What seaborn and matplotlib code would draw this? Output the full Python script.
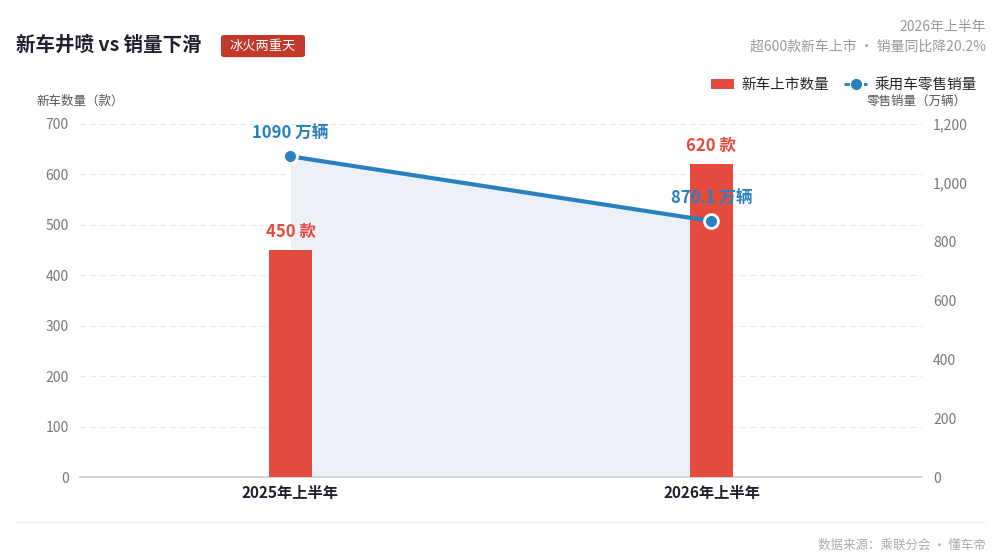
import matplotlib.pyplot as plt
import numpy as np
import pandas as pd
import seaborn as sns
from matplotlib.lines import Line2D
from matplotlib.patches import FancyBboxPatch, Patch

periods = ["2025年上半年", "2026年上半年"]
new_models = [450, 620]
retail_sales = [1090, 870.1]
left_ticks = [0, 100, 200, 300, 400, 500, 600, 700]
right_ticks = [0, 200, 400, 600, 800, 1000, 1200]

RED = "#E24B3E"
BLUE = "#2A80BD"
GRAY = "#777777"

sns.set_theme(style="white")
plt.rcParams["font.family"] = ["Noto Sans CJK SC", "DejaVu Sans"]

df = pd.DataFrame({"period": periods, "models": new_models, "sales": retail_sales})

fig = plt.figure(figsize=(10, 5.55), dpi=100)
ax = fig.add_axes([0.08, 0.1405, 0.842, 0.6361])
ax2 = ax.twinx()
ax2.set_ylim(0, 1200)
ax.set_ylim(0, 700)

sns.barplot(data=df, x="period", y="models", color=RED, width=0.1, saturation=1,
            linewidth=0, ax=ax, zorder=3)
ax.set_xlim(-0.5, 1.5)
ax.set_yticks(left_ticks)
ax.set_xlabel("")
ax.set_ylabel("")
ax.tick_params(axis="y", colors=GRAY, labelsize=10, length=0, pad=8)
ax.tick_params(axis="x", length=0, labelsize=11, pad=6)
for lbl in ax.get_xticklabels():
    lbl.set_fontweight("bold")
    lbl.set_color("#1f1f2e")
ax.grid(axis="y", color="#e6e6e6", linestyle=(0, (5, 4)), linewidth=0.8, zorder=0)
for side in ["top", "left", "right"]:
    ax.spines[side].set_visible(False)
ax.spines["bottom"].set_color("#d5d5d5")
ax.spines["bottom"].set_linewidth(1.5)

# area under the sales line, drawn behind the bars in sales units
xs = np.arange(len(periods))
ax.fill_between(xs, retail_sales, 0, color="#E6EEF6", alpha=0.8, linewidth=0, zorder=1,
                transform=ax2.transData)

for i, v in enumerate(new_models):
    ax.text(i, v + 18, f"{v} 款", ha="center", va="bottom", color=RED,
            fontsize=12, fontweight="bold", zorder=5)

ax2.set_yticks(right_ticks)
ax2.set_yticklabels([f"{t:,}" for t in right_ticks])
ax2.tick_params(axis="y", colors=GRAY, labelsize=10, length=0, pad=8)
for side in ["top", "left", "right", "bottom"]:
    ax2.spines[side].set_visible(False)

sns.lineplot(x=xs, y=retail_sales, color=BLUE, linewidth=3, marker="o", markersize=10,
             markerfacecolor=BLUE, markeredgecolor="white", markeredgewidth=2, ax=ax2, zorder=4)
ax2.set_xlim(-0.5, 1.5)
ax2.set_ylim(0, 1200)
ax2.set_ylabel("")

ax2.text(0, retail_sales[0] + 45, "1090 万辆", ha="center", va="bottom", color=BLUE,
         fontsize=12, fontweight="bold")
ax2.text(1, retail_sales[1] + 45, "870.1 万辆", ha="center", va="bottom", color=BLUE,
         fontsize=12, fontweight="bold")

# header
fig.text(0.016, 0.918, "新车井喷 vs 销量下滑", fontsize=14, fontweight="bold",
         color="#1f1f2e", va="center")
badge = FancyBboxPatch((0.221, 0.897), 0.084, 0.04, boxstyle="round,pad=0,rounding_size=0.004",
                       transform=fig.transFigure, facecolor="#C0392B", edgecolor="none")
fig.patches.append(badge)
fig.text(0.263, 0.916, "冰火两重天", fontsize=9.5, color="white", ha="center", va="center")

fig.text(0.986, 0.951, "2026年上半年", fontsize=10, color="#999999", ha="right", va="center")
fig.text(0.986, 0.916, "超600款新车上市 · 销量同比降20.2%", fontsize=10, color="#999999",
         ha="right", va="center")

handles = [
    Patch(facecolor=RED, edgecolor="none"),
    Line2D([0], [0], color=BLUE, linewidth=2, linestyle=(0, (2, 1.5)), marker="o",
           markersize=7, markerfacecolor=BLUE, markeredgecolor=BLUE),
]
fig.legend(handles, ["新车上市数量", "乘用车零售销量"], loc="center right",
           bbox_to_anchor=(0.99, 0.847), ncol=2, frameon=False, fontsize=10.5,
           handlelength=1.6, handletextpad=0.5, columnspacing=1.0)

fig.text(0.036, 0.818, "新车数量（款）", fontsize=9, color="#555555", va="center")
fig.text(0.967, 0.818, "零售销量（万辆）", fontsize=9, color="#555555", va="center", ha="right")

# footer
fig.add_artist(Line2D([0.015, 0.985], [0.06, 0.06], color="#f0f0f0", linewidth=1,
                      transform=fig.transFigure))
fig.text(0.986, 0.018, "数据来源：乘联分会 · 懂车帝", fontsize=9, color="#aaaaaa",
         ha="right", va="center")

fig.savefig("out.png", dpi=100, facecolor="white")
